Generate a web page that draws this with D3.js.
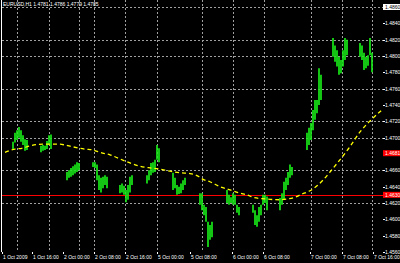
<!DOCTYPE html>
<html>
<head>
<meta charset="utf-8">
<script src="https://cdn.jsdelivr.net/npm/d3@7"></script>
<style>
    html, body { margin: 0; padding: 0; background: #000; }
    svg { display: block; }
</style>
</head>
<body>
<div id="chart"></div>
<script>
const symbolTitle = 'EURUSD,H1  1.4781 1.4786 1.4779 1.4785';

const priceTicks = [1.4860, 1.4840, 1.4820, 1.4800, 1.4780, 1.4760, 1.4740, 1.4720,
    1.4700, 1.4680, 1.4660, 1.4640, 1.4620, 1.4600, 1.4580, 1.4560];
const gridPrices = [1.4860, 1.4820, 1.4800, 1.4760, 1.4720, 1.4700, 1.4660, 1.4620];

// bar index of the day separators and of the time labels
const gridBars = [15, 47, 77, 92, 123, 155, 200, 231, 262, 309, 340, 370];
const timeBars = [0, 30, 61, 92, 123, 155, 188, 230, 261, 308, 340, 371];
const timeLabels = ['1 Oct 2009', '1 Oct 16:00', '2 Oct 00:00', '2 Oct 08:00', '2 Oct 16:00',
    '5 Oct 00:00', '5 Oct 08:00', '6 Oct 00:00', '6 Oct 08:00', '7 Oct 00:00', '7 Oct 08:00', '7 Oct 16:00'];

const bidPrice = 1.4630;
const alertPrice = 1.4681;

// [bar, high, low]
const bars = [
    [11, 1.4695, 1.4686], [13, 1.4706, 1.4694], [15, 1.4709, 1.4697], [17, 1.4713, 1.4700],
    [19, 1.4709, 1.4695], [21, 1.4703, 1.4691], [23, 1.4698, 1.4684], [25, 1.4697, 1.4685],
    [39, 1.4690, 1.4682], [41, 1.4691, 1.4684], [43, 1.4690, 1.4685], [45, 1.4696, 1.4686],
    [47, 1.4703, 1.4691], [49, 1.4704, 1.4686],
    [65, 1.4658, 1.4648], [67, 1.4660, 1.4651], [69, 1.4663, 1.4652], [71, 1.4665, 1.4654],
    [73, 1.4667, 1.4656], [75, 1.4670, 1.4658], [77, 1.4669, 1.4660],
    [91, 1.4670, 1.4664], [93, 1.4670, 1.4663], [95, 1.4667, 1.4648], [97, 1.4654, 1.4636],
    [99, 1.4651, 1.4633], [101, 1.4652, 1.4638], [103, 1.4654, 1.4642], [105, 1.4652, 1.4638],
    [118, 1.4642, 1.4632], [120, 1.4644, 1.4633], [122, 1.4641, 1.4630], [124, 1.4636, 1.4621],
    [126, 1.4642, 1.4624], [128, 1.4652, 1.4633], [130, 1.4654, 1.4642],
    [145, 1.4654, 1.4644], [147, 1.4660, 1.4648], [149, 1.4669, 1.4654], [151, 1.4670, 1.4657],
    [153, 1.4673, 1.4658], [155, 1.4691, 1.4673], [157, 1.4687, 1.4670],
    [171, 1.4657, 1.4636], [173, 1.4651, 1.4638], [175, 1.4642, 1.4630], [177, 1.4640, 1.4631],
    [179, 1.4644, 1.4632], [181, 1.4648, 1.4636], [183, 1.4651, 1.4642],
    [198, 1.4632, 1.4618], [200, 1.4632, 1.4611], [202, 1.4618, 1.4605], [204, 1.4615, 1.4597],
    [206, 1.4597, 1.4566], [208, 1.4593, 1.4575], [210, 1.4597, 1.4578],
    [225, 1.4636, 1.4620], [227, 1.4630, 1.4618], [229, 1.4627, 1.4620], [231, 1.4632, 1.4618],
    [233, 1.4630, 1.4618], [235, 1.4618, 1.4608], [237, 1.4615, 1.4605],
    [251, 1.4618, 1.4608], [253, 1.4611, 1.4593], [255, 1.4605, 1.4591], [257, 1.4615, 1.4597],
    [259, 1.4618, 1.4605], [261, 1.4630, 1.4618], [263, 1.4630, 1.4620], [265, 1.4628, 1.4611],
    [278, 1.4626, 1.4611], [280, 1.4632, 1.4618], [282, 1.4646, 1.4624], [284, 1.4651, 1.4636],
    [286, 1.4658, 1.4642], [288, 1.4667, 1.4651], [290, 1.4664, 1.4654],
    [305, 1.4706, 1.4685], [307, 1.4712, 1.4691], [309, 1.4718, 1.4697], [311, 1.4734, 1.4709],
    [313, 1.4746, 1.4722], [315, 1.4746, 1.4730], [317, 1.4785, 1.4740], [319, 1.4777, 1.4746],
    [331, 1.4822, 1.4799], [333, 1.4813, 1.4793], [335, 1.4807, 1.4787], [337, 1.4799, 1.4777],
    [339, 1.4795, 1.4779], [341, 1.4807, 1.4787], [343, 1.4822, 1.4795], [345, 1.4820, 1.4801],
    [358, 1.4816, 1.4799], [360, 1.4813, 1.4795], [362, 1.4804, 1.4783], [364, 1.4799, 1.4785],
    [366, 1.4801, 1.4788], [368, 1.4822, 1.4801], [370, 1.4804, 1.4780]
];

// moving average [bar, value]
const maPoints = [
    [3, 1.4682], [13, 1.4686], [20, 1.4687], [28, 1.4690], [41, 1.4692], [58, 1.4692],
    [63, 1.4691], [70, 1.4689], [83, 1.4686], [91, 1.4685], [98, 1.4682], [108, 1.4679],
    [118, 1.4674], [128, 1.4669], [138, 1.4665], [148, 1.4663], [155, 1.4662], [168, 1.4659],
    [178, 1.4657], [188, 1.4656], [196, 1.4653], [201, 1.4649], [208, 1.4646], [218, 1.4640],
    [228, 1.4636], [238, 1.4632], [245, 1.4630], [251, 1.4627], [263, 1.4625], [278, 1.4624],
    [286, 1.4625], [293, 1.4627], [300, 1.4631], [308, 1.4635], [315, 1.4641], [321, 1.4648],
    [328, 1.4658], [336, 1.4670], [348, 1.4689], [358, 1.4707], [371, 1.4724], [380, 1.4734]
];

const width = 400;
const height = 263;
const plotLeft = 2, plotRight = 383, plotBottom = 252;

const svg = d3.select('#chart')
    .append('svg')
    .attr('width', width)
    .attr('height', height)
    .style('background', '#000')
    .style('font-family', '"Liberation Sans", Arial, sans-serif');

const x = d3.scaleLinear().domain([0, 380]).range([2, 382]);
const y = d3.scaleLinear().domain([1.4560, 1.4860]).range([252, 7]);

// grid
svg.append('g')
    .selectAll('line')
    .data(gridPrices)
    .enter()
    .append('line')
    .attr('x1', plotLeft)
    .attr('x2', plotRight)
    .attr('y1', d => Math.round(y(d)) + 0.5)
    .attr('y2', d => Math.round(y(d)) + 0.5)
    .attr('stroke', '#a0a0a0')
    .attr('stroke-dasharray', '2,2');

svg.append('g')
    .selectAll('line')
    .data(gridBars)
    .enter()
    .append('line')
    .attr('x1', d => Math.round(x(d)) + 0.5)
    .attr('x2', d => Math.round(x(d)) + 0.5)
    .attr('y1', 0)
    .attr('y2', plotBottom)
    .attr('stroke', '#a0a0a0')
    .attr('stroke-dasharray', '2,2');

// bid line
svg.append('line')
    .attr('x1', plotLeft)
    .attr('x2', plotRight)
    .attr('y1', Math.round(y(bidPrice)) + 0.5)
    .attr('y2', Math.round(y(bidPrice)) + 0.5)
    .attr('stroke', '#ff0000');

// price bars
svg.append('g')
    .selectAll('line')
    .data(bars)
    .enter()
    .append('line')
    .attr('x1', d => x(d[0]))
    .attr('x2', d => x(d[0]))
    .attr('y1', d => y(d[1]))
    .attr('y2', d => y(d[2]))
    .attr('stroke', '#18e818')
    .attr('stroke-width', 1.7);

// moving average, dotted
const maLine = d3.line()
    .x(d => x(d[0]))
    .y(d => y(d[1]))
    .curve(d3.curveMonotoneX);

svg.append('path')
    .datum(maPoints)
    .attr('d', maLine)
    .attr('fill', 'none')
    .attr('stroke', '#ffff00')
    .attr('stroke-width', 1.3)
    .attr('stroke-dasharray', '4,3');

// frame
svg.append('line')
    .attr('x1', 1.5).attr('x2', 1.5)
    .attr('y1', 0).attr('y2', plotBottom)
    .attr('stroke', '#fff');

// price scale
const priceAxis = svg.append('g');
priceAxis.selectAll('text')
    .data(priceTicks)
    .enter()
    .append('text')
    .attr('x', 385)
    .attr('y', d => y(d) + 2)
    .attr('fill', '#fff')
    .style('font-size', '5px')
    .text(d => d3.format('.4f')(d));

priceAxis.selectAll('line')
    .data(priceTicks)
    .enter()
    .append('line')
    .attr('x1', plotRight)
    .attr('x2', plotRight + 2)
    .attr('y1', d => Math.round(y(d)) + 0.5)
    .attr('y2', d => Math.round(y(d)) + 0.5)
    .attr('stroke', '#fff');

// boxed labels: top price, alert and bid
const boxes = [
    { price: priceTicks[0], fill: '#fff', color: '#000' },
    { price: alertPrice, fill: '#ff0000', color: '#fff' },
    { price: bidPrice, fill: '#ff0000', color: '#fff' }
];
boxes.forEach(b => {
    svg.append('rect')
        .attr('x', plotRight)
        .attr('y', y(b.price) - 3)
        .attr('width', 17)
        .attr('height', 6)
        .attr('fill', b.fill);
    svg.append('text')
        .attr('x', 385)
        .attr('y', y(b.price) + 2)
        .attr('fill', b.color)
        .style('font-size', '5px')
        .text(d3.format('.4f')(b.price));
});

// time scale
const timeAxis = svg.append('g');
timeAxis.selectAll('line')
    .data(timeBars)
    .enter()
    .append('line')
    .attr('x1', d => Math.round(x(d)) + 0.5)
    .attr('x2', d => Math.round(x(d)) + 0.5)
    .attr('y1', plotBottom)
    .attr('y2', plotBottom + 2)
    .attr('stroke', '#fff');

timeAxis.selectAll('text')
    .data(timeBars)
    .enter()
    .append('text')
    .attr('x', d => x(d) + 1)
    .attr('y', 259)
    .attr('fill', '#fff')
    .style('font-size', '5px')
    .text((d, i) => timeLabels[i]);

// title
svg.append('text')
    .attr('x', 3)
    .attr('y', 6)
    .attr('fill', '#fff')
    .style('font-size', '5px')
    .text(symbolTitle);
</script>
</body>
</html>
